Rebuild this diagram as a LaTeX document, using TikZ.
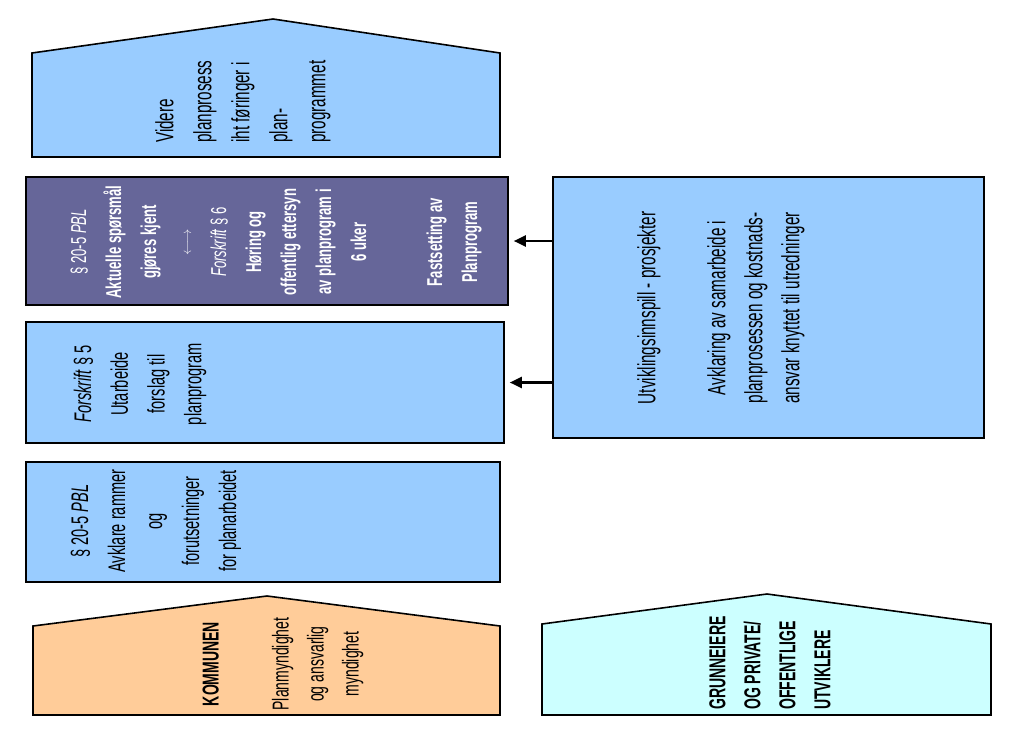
\documentclass[tikz,border=0pt]{standalone}
\usepackage{fontspec}
\setmainfont{Liberation Sans}[FakeStretch=0.61]
\usetikzlibrary{arrows.meta}
\definecolor{lblue}{HTML}{99CCFF}
\definecolor{purp}{HTML}{666699}
\definecolor{orng}{HTML}{FFCC99}
\definecolor{cyn}{HTML}{CCFFFF}
\newcommand\myfs[2]{\fontsize{#1}{#2}\selectfont}
\begin{document}
\begin{tikzpicture}[x=1pt,y=-1pt,
  box/.style={draw=black, line width=1.6pt, inner sep=0pt},
  txt/.style={rotate=90, inner sep=0pt, align=center},
  arr/.style={line width=2.4pt, -{Triangle[length=12pt,width=11pt]}, shorten >=5pt},
  house/.style={draw=black, line width=1.6pt, line join=miter}]
\useasboundingbox (0,0) rectangle (1024,730);
% house shapes
\draw[house, fill=lblue] (32,157) -- (32,53) -- (273,19) -- (500,53) -- (500,157) -- cycle;
\draw[house, fill=orng] (33,715) -- (33,626) -- (267,596) -- (500,626) -- (500,715) -- cycle;
\draw[house, fill=cyn] (542,715) -- (542,624) -- (767,594) -- (991,624) -- (991,715) -- cycle;
% boxes
\node[box, fill=purp, minimum width=482pt, minimum height=128pt] (pu) at (267,241) {};
\node[box, fill=lblue, minimum width=478pt, minimum height=121pt] (fo) at (265,382.5) {};
\node[box, fill=lblue, minimum width=474pt, minimum height=120pt] (pb) at (263,522) {};
\node[box, fill=lblue, minimum width=431pt, minimum height=261pt] (rb) at (768.5,307.5) {};
% texts
\node[txt, anchor=west, align=left, font=\myfs{25}{38}] (tpt) at (243,143)
  {Videre\\planprosess\\iht føringer i\\plan-\\programmet};
\node[txt, text=white, font=\myfs{21.5}{35}] (put) at (276,242)
  {\S\ 20-5 \textit{PBL}\\
   \textbf{Aktuelle spørsmål}\\
   \textbf{gjøres kjent}\\
   {\color{white!85!purp}\myfs{14}{14}$\longleftrightarrow$}\\
   \textit{Forskrift} \S\ 6\\
   \textbf{Høring og}\\
   \textbf{offentlig ettersyn}\\
   \textbf{av planprogram i}\\
   \textbf{6 uker}\\[41pt]
   \textbf{Fastsetting av}\\
   \textbf{Planprogram}};
\node[txt, font=\myfs{24}{36.7}] (fot) at (140,384)
  {\textit{Forskrift} \S\ 5\\Utarbeide\\forslag til\\planprogram};
\node[txt, font=\myfs{24}{37}] (pbt) at (156,521)
  {\S\ 20-5 \textit{PBL}\\Avklare rammer\\og\\forutsetninger\\for planarbeidet};
\node[txt, font=\myfs{23}{35}] (kot) at (283,664)
  {\textbf{KOMMUNEN}\\[35pt]Planmyndighet\\og ansvarlig\\myndighet};
\node[txt, anchor=west, align=left, font=\myfs{23}{35}\bfseries] (grt) at (770,710)
  {GRUNNEIERE\\OG PRIVATE/\\OFFENTLIGE\\UTVIKLERE};
\node[txt, font=\myfs{25}{37}] (rbt) at (721,308)
  {Utviklingsinnspill - prosjekter\\[33pt]Avklaring av samarbeide i\\planprosessen og kostnads-\\ansvar knyttet til utredninger};
% arrows
\draw[arr] (rb.west |- pu.east) -- (pu.east);
\draw[arr] (rb.west |- fo.east) -- (fo.east);
\end{tikzpicture}
\end{document}
